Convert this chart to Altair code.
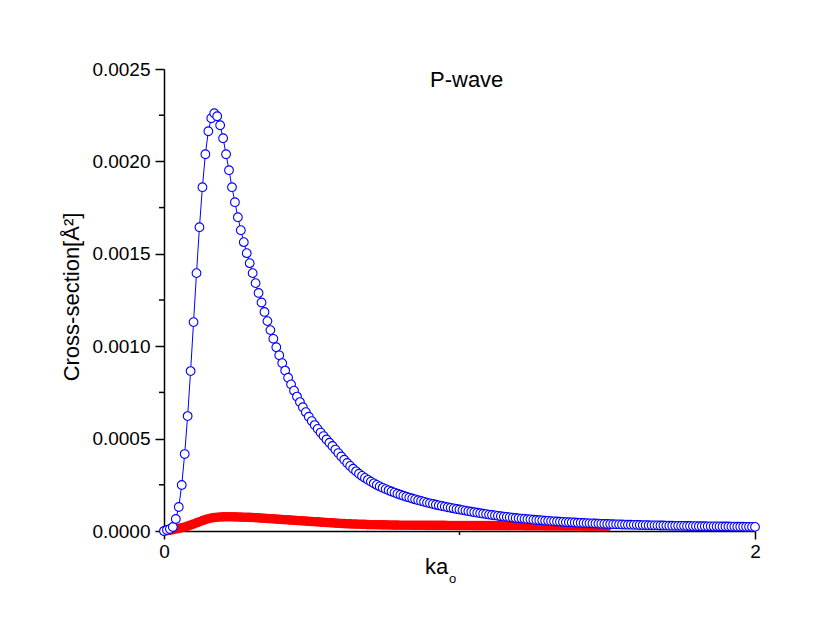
import altair as alt
import pandas as pd

# ---- data ----
ka = [
    0.00, 0.01, 0.02, 0.03, 0.04, 0.05, 0.06, 0.07, 0.08, 0.09,
    0.10, 0.11, 0.12, 0.13, 0.14, 0.15, 0.16, 0.17, 0.18, 0.19,
    0.20, 0.21, 0.22, 0.23, 0.24, 0.25, 0.26, 0.27, 0.28, 0.29,
    0.30, 0.31, 0.32, 0.33, 0.34, 0.35, 0.36, 0.37, 0.38, 0.39,
    0.40, 0.41, 0.42, 0.43, 0.44, 0.45, 0.46, 0.47, 0.48, 0.49,
    0.50, 0.51, 0.52, 0.53, 0.54, 0.55, 0.56, 0.57, 0.58, 0.59,
    0.60, 0.61, 0.62, 0.63, 0.64, 0.65, 0.66, 0.67, 0.68, 0.69,
    0.70, 0.71, 0.72, 0.73, 0.74, 0.75, 0.76, 0.77, 0.78, 0.79,
    0.80, 0.81, 0.82, 0.83, 0.84, 0.85, 0.86, 0.87, 0.88, 0.89,
    0.90, 0.91, 0.92, 0.93, 0.94, 0.95, 0.96, 0.97, 0.98, 0.99,
    1.00, 1.01, 1.02, 1.03, 1.04, 1.05, 1.06, 1.07, 1.08, 1.09,
    1.10, 1.11, 1.12, 1.13, 1.14, 1.15, 1.16, 1.17, 1.18, 1.19,
    1.20, 1.21, 1.22, 1.23, 1.24, 1.25, 1.26, 1.27, 1.28, 1.29,
    1.30, 1.31, 1.32, 1.33, 1.34, 1.35, 1.36, 1.37, 1.38, 1.39,
    1.40, 1.41, 1.42, 1.43, 1.44, 1.45, 1.46, 1.47, 1.48, 1.49,
    1.50, 1.51, 1.52, 1.53, 1.54, 1.55, 1.56, 1.57, 1.58, 1.59,
    1.60, 1.61, 1.62, 1.63, 1.64, 1.65, 1.66, 1.67, 1.68, 1.69,
    1.70, 1.71, 1.72, 1.73, 1.74, 1.75, 1.76, 1.77, 1.78, 1.79,
    1.80, 1.81, 1.82, 1.83, 1.84, 1.85, 1.86, 1.87, 1.88, 1.89,
    1.90, 1.91, 1.92, 1.93, 1.94, 1.95, 1.96, 1.97, 1.98, 1.99,
    2.00,
]

blue_cs = [
    0.0, 0.0000054, 0.0000108, 0.0000216, 0.0000649, 0.0001298, 0.0002488, 0.0004164, 0.0006219, 0.0008653,
    0.0011303, 0.0013953, 0.0016440, 0.0018604, 0.0020388, 0.0021632, 0.0022335, 0.0022605, 0.0022443, 0.0021956,
    0.0021253, 0.0020388, 0.0019523, 0.0018604, 0.0017792, 0.0016981, 0.0016278, 0.0015629, 0.0015034, 0.0014493,
    0.0013953, 0.0013412, 0.0012882, 0.0012363, 0.0011854, 0.0011357, 0.0010870, 0.0010400, 0.0009945, 0.0009507,
    0.0009085, 0.0008680, 0.0008296, 0.0007933, 0.0007593, 0.0007274, 0.0006976, 0.0006695, 0.0006430, 0.0006181,
    0.0005949, 0.0005732, 0.0005527, 0.0005327, 0.0005138, 0.0004954, 0.0004775, 0.0004602, 0.0004408, 0.0004218,
    0.0004034, 0.0003856, 0.0003683, 0.0003521, 0.0003369, 0.0003229, 0.0003099, 0.0002980, 0.0002872, 0.0002769,
    0.0002672, 0.0002580, 0.0002493, 0.0002412, 0.0002336, 0.0002266, 0.0002201, 0.0002136, 0.0002077, 0.0002017,
    0.0001963, 0.0001909, 0.0001855, 0.0001806, 0.0001758, 0.0001709, 0.0001666, 0.0001622, 0.0001579, 0.0001536,
    0.0001498, 0.0001460, 0.0001422, 0.0001384, 0.0001352, 0.0001320, 0.0001287, 0.0001255, 0.0001222, 0.0001190,
    0.0001163, 0.0001130, 0.0001103, 0.0001071, 0.0001044, 0.0001017, 0.0000990, 0.0000963, 0.0000936, 0.0000914,
    0.0000887, 0.0000865, 0.0000844, 0.0000822, 0.0000800, 0.0000779, 0.0000763, 0.0000741, 0.0000725, 0.0000703,
    0.0000687, 0.0000671, 0.0000654, 0.0000638, 0.0000627, 0.0000611, 0.0000595, 0.0000584, 0.0000573, 0.0000557,
    0.0000546, 0.0000535, 0.0000525, 0.0000514, 0.0000503, 0.0000492, 0.0000481, 0.0000476, 0.0000465, 0.0000460,
    0.0000449, 0.0000443, 0.0000433, 0.0000427, 0.0000416, 0.0000411, 0.0000406, 0.0000400, 0.0000389, 0.0000384,
    0.0000379, 0.0000373, 0.0000368, 0.0000362, 0.0000357, 0.0000352, 0.0000346, 0.0000341, 0.0000341, 0.0000335,
    0.0000330, 0.0000324, 0.0000319, 0.0000319, 0.0000314, 0.0000308, 0.0000303, 0.0000303, 0.0000297, 0.0000297,
    0.0000292, 0.0000287, 0.0000287, 0.0000281, 0.0000281, 0.0000276, 0.0000276, 0.0000270, 0.0000270, 0.0000265,
    0.0000265, 0.0000260, 0.0000260, 0.0000260, 0.0000254, 0.0000254, 0.0000249, 0.0000249, 0.0000249, 0.0000243,
    0.0000243, 0.0000243, 0.0000238, 0.0000238, 0.0000233, 0.0000233, 0.0000233, 0.0000227, 0.0000227, 0.0000222,
    0.0000222,
]

red_cs = [
    0.0, 0.0000016, 0.0000038, 0.0000070, 0.0000108, 0.0000141, 0.0000178, 0.0000216, 0.0000265, 0.0000319,
    0.0000379, 0.0000443, 0.0000503, 0.0000562, 0.0000617, 0.0000665, 0.0000703, 0.0000730, 0.0000746, 0.0000757,
    0.0000763, 0.0000768, 0.0000768, 0.0000768, 0.0000763, 0.0000757, 0.0000752, 0.0000746, 0.0000741, 0.0000735,
    0.0000730, 0.0000719, 0.0000708, 0.0000698, 0.0000687, 0.0000676, 0.0000665, 0.0000654, 0.0000644, 0.0000633,
    0.0000622, 0.0000611, 0.0000600, 0.0000589, 0.0000579, 0.0000568, 0.0000557, 0.0000546, 0.0000535, 0.0000525,
    0.0000514, 0.0000503, 0.0000492, 0.0000481, 0.0000470, 0.0000460, 0.0000449, 0.0000438, 0.0000427, 0.0000416,
    0.0000406, 0.0000400, 0.0000389, 0.0000384, 0.0000379, 0.0000373, 0.0000368, 0.0000362, 0.0000357, 0.0000346,
    0.0000341, 0.0000341, 0.0000335, 0.0000335, 0.0000330, 0.0000330, 0.0000324, 0.0000324, 0.0000319, 0.0000319,
    0.0000314, 0.0000314, 0.0000314, 0.0000314, 0.0000308, 0.0000308, 0.0000308, 0.0000308, 0.0000308, 0.0000303,
    0.0000303, 0.0000303, 0.0000303, 0.0000303, 0.0000303, 0.0000303, 0.0000297, 0.0000297, 0.0000297, 0.0000297,
    0.0000297, 0.0000297, 0.0000297, 0.0000297, 0.0000297, 0.0000292, 0.0000292, 0.0000292, 0.0000292, 0.0000292,
    0.0000292, 0.0000292, 0.0000292, 0.0000292, 0.0000287, 0.0000287, 0.0000287, 0.0000287, 0.0000287, 0.0000287,
    0.0000287, 0.0000287, 0.0000281, 0.0000281, 0.0000281, 0.0000281, 0.0000281, 0.0000281, 0.0000281, 0.0000276,
    0.0000276, 0.0000276, 0.0000276, 0.0000276, 0.0000276, 0.0000276, 0.0000270, 0.0000270, 0.0000270, 0.0000270,
    0.0000270, 0.0000270, 0.0000265, 0.0000265, 0.0000265, 0.0000265, 0.0000260, 0.0000260, 0.0000260, 0.0000260,
    0.0000254,
]

y_major = [0.0, 0.0005, 0.0010, 0.0015, 0.0020, 0.0025]
y_minor = [0.00025, 0.00075, 0.00125, 0.00175, 0.00225]
x_major = [0, 2]
x_minor = [1]

title_text = ["P-wave"]
x_title = ["ka"]
x_title_sub = ["o"]
y_title = ["Cross-section[Å²]"]

# ---- tables ----
blue = pd.DataFrame({"ka": ka, "cs": blue_cs})
red = pd.DataFrame({"ka": ka[:len(red_cs)], "cs": red_cs})
ymin_df = pd.DataFrame({"ka": [0.0] * len(y_minor), "cs": y_minor})
xmin_df = pd.DataFrame({"ka": x_minor, "cs": [0.0] * len(x_minor)})

W, H = 591, 462
FONT = "Liberation Sans"

xs = alt.Scale(domain=[0, 2], nice=False, zero=False)
ys = alt.Scale(domain=[0, 0.0025], nice=False, zero=False)

xaxis = alt.Axis(values=x_major, format="d", title=None, grid=False,
                 tickSize=8, tickWidth=1.5, tickColor="black",
                 domainColor="black", domainWidth=1.5,
                 labelFontSize=19, labelFont=FONT, labelColor="black",
                 labelPadding=3, labelFlush=False)
yaxis = alt.Axis(values=y_major, format=".4f", title=None, grid=False,
                 tickSize=9, tickWidth=1.5, tickColor="black",
                 domainColor="black", domainWidth=1.5,
                 labelFontSize=19, labelFont=FONT, labelColor="black",
                 labelPadding=5, labelFlush=False)

X = alt.X("ka:Q", scale=xs, axis=xaxis)
Y = alt.Y("cs:Q", scale=ys, axis=yaxis)

red_layer = alt.Chart(red).mark_circle(size=92, color="#ff0000", opacity=1).encode(x=X, y=Y)

blue_line = alt.Chart(blue).mark_line(color="#0000ff", strokeWidth=1).encode(x=X, y=Y)

blue_pts = alt.Chart(blue).mark_point(
    shape="circle", size=76, filled=True, fill="white", fillOpacity=1,
    stroke="#0000ff", strokeWidth=1.1, opacity=1
).encode(x=X, y=Y)

y_minor_ticks = alt.Chart(ymin_df).mark_rule(color="black", strokeWidth=1.5).encode(
    y=Y, x=alt.value(-5), x2=alt.value(0),
)
x_minor_ticks = alt.Chart(xmin_df).mark_rule(color="black", strokeWidth=1.5).encode(
    x=X, y=alt.value(H), y2=alt.value(H + 4),
)

title_layer = alt.Chart(pd.DataFrame({"t": title_text})).mark_text(
    align="left", baseline="alphabetic", fontSize=22, font=FONT, color="black"
).encode(x=alt.value(266), y=alt.value(18), text="t:N")

xt_layer = alt.Chart(pd.DataFrame({"t": x_title})).mark_text(
    align="left", baseline="alphabetic", fontSize=22, font=FONT, color="black"
).encode(x=alt.value(261), y=alt.value(505), text="t:N")

xt_sub_layer = alt.Chart(pd.DataFrame({"t": x_title_sub})).mark_text(
    align="left", baseline="alphabetic", fontSize=13, font=FONT, color="black"
).encode(x=alt.value(285), y=alt.value(514), text="t:N")

yt_layer = alt.Chart(pd.DataFrame({"t": y_title})).mark_text(
    align="center", baseline="middle", fontSize=22, font=FONT, color="black", angle=270
).encode(x=alt.value(-92), y=alt.value(228), text="t:N")

chart = alt.layer(
    red_layer, blue_line, blue_pts, y_minor_ticks, x_minor_ticks,
    title_layer, xt_layer, xt_sub_layer, yt_layer,
).properties(
    width=W, height=H,
    autosize=alt.AutoSizeParams(type="none"),
    padding={"left": 156, "top": 61, "right": 40, "bottom": 80},
    background="white",
).configure_view(stroke=None)

chart.save("out.html", embed_options={"renderer": "svg", "actions": False})
